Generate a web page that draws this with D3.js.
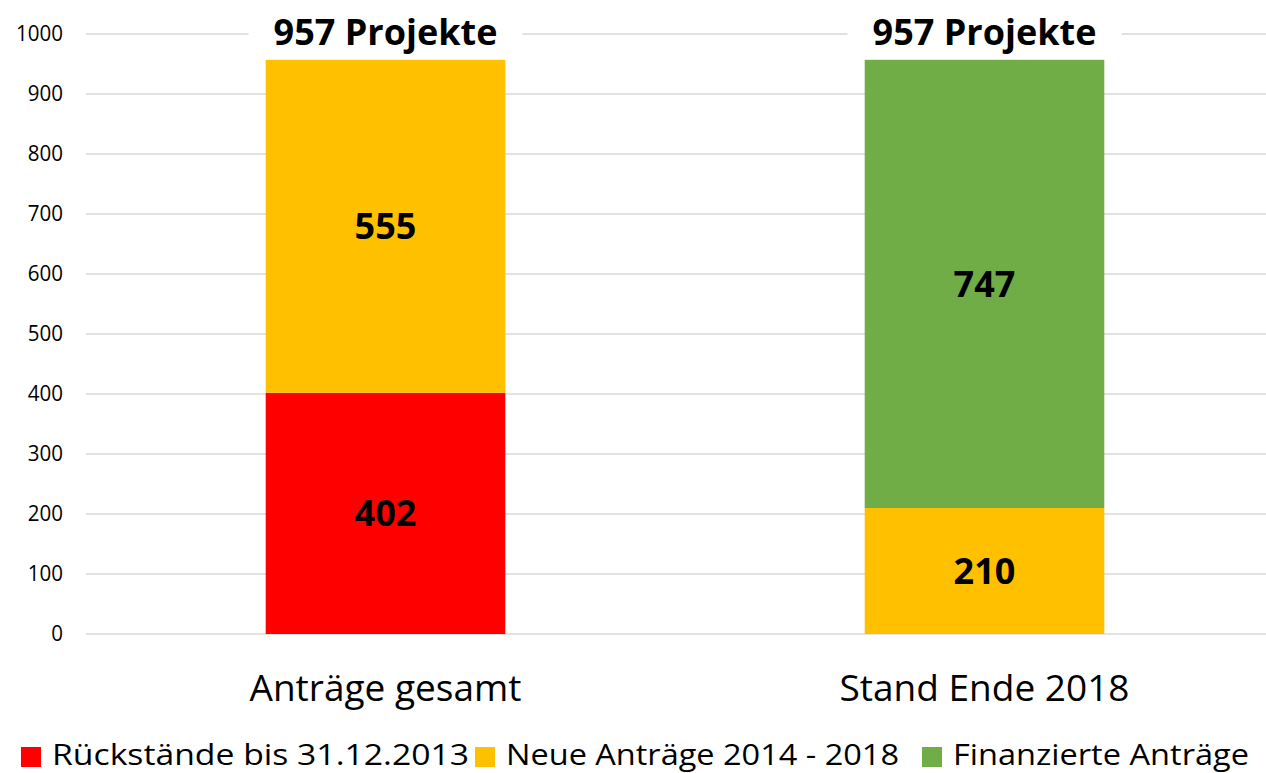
<!DOCTYPE html>
<html>
<head>
<meta charset="utf-8">
<script src="https://cdn.jsdelivr.net/npm/d3@7"></script>
<style>
  body { margin: 0; background: #fff; }
  text { font-family: "Open Sans", sans-serif; }
</style>
</head>
<body>
<svg id="chart"></svg>
<script>
const categories = ["Anträge gesamt", "Stand Ende 2018"];
const seriesNames = ["Rückstände bis 31.12.2013", "Neue Anträge 2014 - 2018", "Finanzierte Anträge"];
const seriesColors = ["#ff0000", "#ffc000", "#70ad47"];
// values per category, in series order
const rueckstaende = [402, 0];
const neueAntraege = [555, 210];
const finanziert = [0, 747];
const totals = [957, 957];
const yTicks = [0, 100, 200, 300, 400, 500, 600, 700, 800, 900, 1000];

const w = 1266, h = 773;
const svg = d3.select("#chart").attr("width", w).attr("height", h);

const x = d3.scaleBand()
  .domain(categories)
  .range([86, 1284])
  .paddingInner(0.6)
  .paddingOuter(0.3);

const y = d3.scaleLinear()
  .domain([0, 1000])
  .range([634, 34]);

// gridlines
svg.append("g")
  .selectAll("line")
  .data(yTicks)
  .enter().append("line")
  .attr("x1", 86).attr("x2", w)
  .attr("y1", d => y(d)).attr("y2", d => y(d))
  .attr("stroke", "#d9d9d9")
  .attr("stroke-width", 1.5);

// y axis labels
const yAxis = d3.axisLeft(y).tickValues(yTicks).tickFormat(d3.format("d")).tickSize(0).tickPadding(0);
const gy = svg.append("g").attr("transform", "translate(63,0)").call(yAxis);
gy.attr("font-size", null).attr("font-family", null);
gy.select(".domain").remove();
gy.selectAll("text")
  .style("font-size", "21.5px")
  .attr("textLength", d => String(d).length * 11.75)
  .attr("lengthAdjust", "spacingAndGlyphs")
  .attr("fill", "#000");

// stacked data
const rows = categories.map((c, i) => ({
  cat: c, s0: rueckstaende[i], s1: neueAntraege[i], s2: finanziert[i]
}));
const stack = d3.stack().keys(["s0", "s1", "s2"]);
const stacked = stack(rows);

const layers = svg.append("g").selectAll("g")
  .data(stacked)
  .enter().append("g")
  .attr("fill", (d, i) => seriesColors[i]);

layers.selectAll("rect")
  .data(d => d)
  .enter()
  .filter(d => d[1] - d[0] > 0)
  .append("rect")
  .attr("x", d => x(d.data.cat))
  .attr("y", d => y(d[1]))
  .attr("width", x.bandwidth())
  .attr("height", d => y(d[0]) - y(d[1]));

// value labels
layers.selectAll("text")
  .data(d => d)
  .enter()
  .filter(d => d[1] - d[0] > 0)
  .append("text")
  .attr("x", d => x(d.data.cat) + x.bandwidth() / 2)
  .attr("y", d => y((d[0] + d[1]) / 2))
  .attr("dy", "0.36em")
  .attr("text-anchor", "middle")
  .attr("font-size", 36)
  .attr("font-weight", "bold")
  .attr("fill", "#000")
  .text(d => d[1] - d[0]);

// total labels with white box
const tot = svg.append("g").selectAll("g")
  .data(categories)
  .enter().append("g");

tot.append("rect")
  .attr("x", d => x(d) + x.bandwidth() / 2 - 137)
  .attr("y", 10)
  .attr("width", 274)
  .attr("height", 44)
  .attr("fill", "#fff");

tot.append("text")
  .attr("x", d => x(d) + x.bandwidth() / 2)
  .attr("y", (d, i) => y(totals[i]) - 15)
  .attr("text-anchor", "middle")
  .attr("font-size", 36)
  .attr("font-weight", "bold")
  .attr("fill", "#000")
  .text((d, i) => totals[i] + " Projekte");

// category labels
const xAxis = d3.axisBottom(x).tickSize(0).tickPadding(0);
const gx = svg.append("g").attr("transform", "translate(0,701)").call(xAxis);
gx.attr("font-size", null).attr("font-family", null);
gx.select(".domain").remove();
gx.selectAll("text")
  .attr("dy", 0)
  .style("font-size", "37px")
  .attr("fill", "#000");

// legend
const legendX = [21, 475, 922];
const legendW = [417, 393, 296];
const leg = svg.append("g").selectAll("g")
  .data(seriesNames)
  .enter().append("g")
  .attr("transform", (d, i) => `translate(${legendX[i]},0)`);

leg.append("rect")
  .attr("x", 0).attr("y", 747)
  .attr("width", 20).attr("height", 20)
  .attr("fill", (d, i) => seriesColors[i]);

leg.append("text")
  .attr("x", 31).attr("y", 765)
  .attr("font-size", 30)
  .attr("fill", "#000")
  .attr("textLength", (d, i) => legendW[i])
  .attr("lengthAdjust", "spacingAndGlyphs")
  .text(d => d);
</script>
</body>
</html>
